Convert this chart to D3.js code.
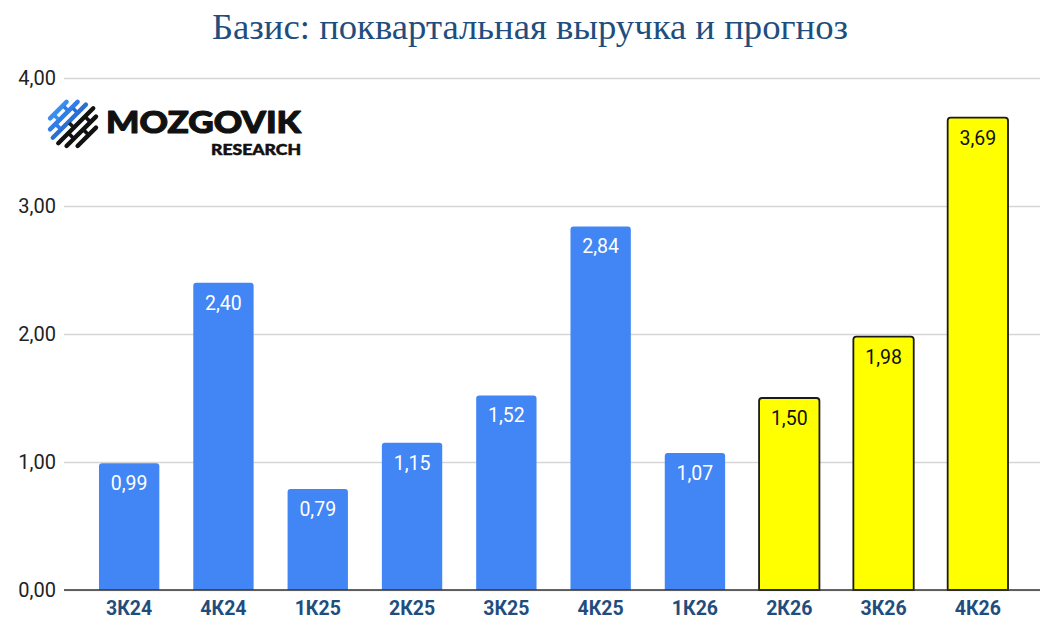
<!DOCTYPE html>
<html><head><meta charset="utf-8">
<script src="https://cdn.jsdelivr.net/npm/d3@7"></script>
<style>body{margin:0;background:#fff}svg{display:block}</style>
</head><body>
<svg id="c" width="1058" height="634"></svg>
<script>
const categories = ["3К24","4К24","1К25","2К25","3К25","4К25","1К26","2К26","3К26","4К26"];
const values = [0.99,2.40,0.79,1.15,1.52,2.84,1.07,1.50,1.98,3.69];
const isForecast = [false,false,false,false,false,false,false,true,true,true];
const yTicks = [0,1,2,3,4];
const title = "Базис: поквартальная выручка и прогноз";

const svg = d3.select("#c");
const fmt = v => d3.format(".2f")(v).replace(".", ",");
const x = d3.scaleBand().domain(categories).range([82, 1025]).paddingInner(0.36).paddingOuter(0.18);
const y = d3.scaleLinear().domain([0,4]).range([590,78]);

svg.append("text").attr("x",530).attr("y",39).attr("text-anchor","middle")
  .attr("font-family","'Liberation Serif','DejaVu Serif',serif").attr("font-size",36)
  .attr("textLength",636).attr("lengthAdjust","spacingAndGlyphs")
  .attr("fill","#1f4e7e").text(title);

// grid
const gAxis = svg.append("g").attr("transform","translate(64,0)")
  .call(d3.axisLeft(y).tickValues(yTicks).tickFormat(fmt).tickSize(-976).tickPadding(8));
gAxis.select(".domain").remove();
gAxis.selectAll(".tick line").attr("stroke","#d6d6d6").attr("stroke-width",1.3);
gAxis.selectAll(".tick text").attr("font-family","Roboto,'Noto Sans',sans-serif").attr("font-size",20).attr("fill","#222");

// logo
const logo = svg.append("g");
const icon = logo.append("g").attr("transform","translate(73,123) rotate(-45) scale(1.3)");
const stripes = [
  {y:-15, x0:-10, x1:8, c:"#3a8ef0"},
  {y:-9, x0:-16, x1:14, c:"#2f7de8"},
  {y:-3, x0:-19, x1:17, c:"#2a6fd6"},
  {y:3, x0:-19, x1:19, c:"#111"},
  {y:9, x0:-16, x1:16, c:"#111"},
  {y:15, x0:-10, x1:10, c:"#111"}
];
stripes.forEach(s=>{
  icon.append("line").attr("x1",s.x0).attr("x2",s.x1).attr("y1",s.y).attr("y2",s.y)
    .attr("stroke",s.c).attr("stroke-width",3.4).attr("stroke-linecap","round");
});
[[-6,-12,"#3a8ef0"],[4,-12,"#2f7de8"],[-10,-6,"#2f7de8"],[8,-6,"#2a6fd6"],[-2,0,"#1a1a1a"],[10,6,"#111"],[-8,6,"#111"],[2,12,"#111"]].forEach(t=>{
  icon.append("line").attr("x1",t[0]).attr("x2",t[0]).attr("y1",t[1]-2).attr("y2",t[1]+2)
    .attr("stroke",t[2]).attr("stroke-width",2.8);
});
logo.append("text").attr("x",106).attr("y",133).attr("font-family","Lato,'Open Sans',sans-serif")
  .attr("font-weight",900).attr("font-size",30).attr("fill","#111")
  .attr("stroke","#111").attr("stroke-width",1.1).attr("stroke-linejoin","round")
  .attr("textLength",195).attr("lengthAdjust","spacingAndGlyphs").text("MOZGOVIK");
logo.append("text").attr("x",301).attr("y",155).attr("text-anchor","end").attr("font-family","Lato,'Open Sans',sans-serif")
  .attr("font-weight",900).attr("font-size",15).attr("fill","#111")
  .attr("stroke","#111").attr("stroke-width",0.5).attr("stroke-linejoin","round")
  .attr("textLength",90).attr("lengthAdjust","spacingAndGlyphs").text("RESEARCH");

// bars
const r = 3;
function barPath(x0,w,yTop,yBot){
  return `M${x0},${yBot}V${yTop+r}Q${x0},${yTop} ${x0+r},${yTop}H${x0+w-r}Q${x0+w},${yTop} ${x0+w},${yTop+r}V${yBot}Z`;
}
const bars = svg.append("g");
categories.forEach((c,i)=>{
  const f = isForecast[i];
  bars.append("path").attr("d",barPath(x(c),x.bandwidth(),y(values[i]),y(0)))
    .attr("fill",f?"#ffff00":"#4285f4")
    .attr("stroke",f?"#1a1a1a":"none").attr("stroke-width",f?1.8:0);
  bars.append("text").attr("x",x(c)+x.bandwidth()/2).attr("y",y(values[i])+27)
    .attr("text-anchor","middle").attr("font-family","Roboto,'Noto Sans',sans-serif").attr("font-size",19.5)
    .attr("fill",f?"#111":"#fff").text(fmt(values[i]));
});

// baseline
svg.append("line").attr("x1",64).attr("x2",1040).attr("y1",y(0)).attr("y2",y(0)).attr("stroke","#333").attr("stroke-width",1.5);

// x labels
const gx = svg.append("g").attr("transform",`translate(0,${y(0)})`)
  .call(d3.axisBottom(x).tickSize(0).tickPadding(11));
gx.select(".domain").remove();
gx.selectAll(".tick text").attr("font-family","Roboto,'Noto Sans',sans-serif").attr("font-size",19.5)
  .attr("font-weight","bold").attr("fill","#1f4e7e");
</script>
</body></html>
